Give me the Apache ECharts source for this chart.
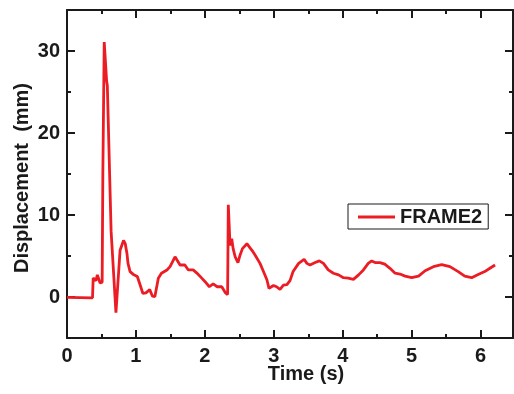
<!DOCTYPE html>
<html>
<head>
<meta charset="utf-8">
<script src="https://cdn.jsdelivr.net/npm/echarts@6/dist/echarts.min.js"></script>
<style>
  html, body { margin: 0; padding: 0; background: #fff; }
  #chart { width: 514px; height: 394px; }
</style>
</head>
<body>
<div id="chart"></div>
<script>
// time (s) and displacement (mm)
const timeS = [
  0, 0.37, 0.38, 0.395, 0.42, 0.44, 0.48, 0.51, 0.52, 0.54, 0.575, 0.585, 0.64, 0.71,
  0.77, 0.82, 0.845, 0.87, 0.885, 0.915, 0.97, 1.02, 1.06, 1.1, 1.145, 1.2, 1.24, 1.275,
  1.325, 1.37, 1.45, 1.495, 1.567, 1.64, 1.71, 1.76, 1.83, 1.88, 1.955, 2.0, 2.065, 2.12,
  2.18, 2.245, 2.3, 2.33, 2.34, 2.365, 2.39, 2.41, 2.44, 2.48, 2.51, 2.545, 2.61, 2.655,
  2.7, 2.73, 2.75, 2.8, 2.85, 2.9, 2.93, 2.995, 3.04, 3.09, 3.14, 3.19, 3.235, 3.28,
  3.36, 3.44, 3.48, 3.525, 3.6, 3.66, 3.72, 3.79, 3.865, 3.94, 4.01, 4.08, 4.155, 4.23,
  4.3, 4.37, 4.42, 4.47, 4.54, 4.61, 4.685, 4.76, 4.83, 4.905, 5.0, 5.1, 5.195, 5.315,
  5.435, 5.555, 5.675, 5.77, 5.87, 5.965, 6.06, 6.135, 6.21
];
const frame2 = [
  -0.05, -0.1, 2.3, 2.2, 2.0, 2.7, 1.7, 1.8, 15, 31.1, 26.3, 25.8, 8, -1.9,
  5.7, 6.9, 6.5, 5.3, 4.1, 3.1, 2.7, 2.5, 1.5, 0.45, 0.5, 0.9, 0.1, 0.05,
  2.3, 2.9, 3.3, 3.7, 4.9, 3.9, 3.9, 3.3, 3.3, 2.95, 2.3, 1.9, 1.25, 1.6,
  1.25, 1.25, 0.5, 0.3, 11.25, 6.3, 7.1, 5.9, 4.9, 4.2, 5.1, 5.9, 6.5, 6.0,
  5.5, 5.1, 5.3, 4.1, 3.1, 2.1, 1.05, 1.4, 1.25, 0.93, 1.45, 1.5, 2.0, 3.1,
  4.1, 4.6, 4.1, 3.9, 4.2, 4.4, 4.1, 3.3, 2.9, 2.7, 2.35, 2.3, 2.15, 2.7,
  3.3, 4.1, 4.4, 4.2, 4.2, 4.0, 3.5, 2.9, 2.8, 2.55, 2.35, 2.55, 3.2, 3.7,
  3.95, 3.7, 3.1, 2.55, 2.35, 2.75, 3.1, 3.5, 3.9
];
const xMajor = [0, 1, 2, 3, 4, 5, 6];
const xMinor = [0.5, 1.5, 2.5, 3.5, 4.5, 5.5];
const yMajor = [0, 10, 20, 30];
const yMinor = [-5, 5, 15, 25];

const font = 'Liberation Sans, Arial, sans-serif';
const black = '#1a1a1a';

function xAx(pos, ticks, len, withLabel, showLine) {
  return {
    type: 'value', position: pos, min: 0, max: 6.47,
    axisLine: { show: showLine, onZero: false, lineStyle: { color: black, width: 2 } },
    axisTick: { show: true, inside: true, length: len, customValues: ticks, lineStyle: { color: black, width: 2 } },
    axisLabel: withLabel
      ? { show: true, customValues: ticks, margin: 8, color: black, fontFamily: font, fontWeight: 'bold', fontSize: 20 }
      : { show: false },
    splitLine: { show: false }
  };
}
function yAx(pos, ticks, len, withLabel, showLine) {
  return {
    type: 'value', position: pos, min: -5, max: 35,
    axisLine: { show: showLine, onZero: false, lineStyle: { color: black, width: 2 } },
    axisTick: { show: true, inside: true, length: len, customValues: ticks, lineStyle: { color: black, width: 2 } },
    axisLabel: withLabel
      ? { show: true, customValues: ticks, margin: 7, color: black, fontFamily: font, fontWeight: 'bold', fontSize: 20 }
      : { show: false },
    splitLine: { show: false }
  };
}

const chart = echarts.init(document.getElementById('chart'));

const xMain = xAx('bottom', xMajor, 8, true, true);
xMain.name = 'Time (s)';
xMain.nameLocation = 'middle';
xMain.nameGap = 26;
xMain.nameMoveOverlap = false;
xMain.nameTextStyle = { color: black, fontFamily: font, fontWeight: 'bold', fontSize: 20, padding: [0, 0, 0, 32] };

const yMain = yAx('left', yMajor, 8, true, true);
yMain.name = 'Displacement  (mm)';
yMain.nameLocation = 'middle';
yMain.nameGap = 35;
yMain.nameMoveOverlap = false;
yMain.nameTextStyle = { color: black, fontFamily: font, fontWeight: 'bold', fontSize: 20, padding: [0, 8, 0, 0] };

chart.setOption({
  animation: false,
  grid: { left: 67, top: 10, width: 446, height: 328, containLabel: false, outerBoundsMode: 'none' },
  legend: {
    left: 348, top: 204,
    padding: [3, 6, 2, 10],
    borderColor: black, borderWidth: 1,
    icon: 'rect', itemWidth: 37, itemHeight: 3, itemGap: 5,
    textStyle: { color: black, fontFamily: font, fontWeight: 'bold', fontSize: 20 },
    data: ['FRAME2']
  },
  xAxis: [
    xMain,
    xAx('bottom', xMinor, 4, false, false),
    xAx('top', xMajor, 8, false, true),
    xAx('top', xMinor, 4, false, false)
  ],
  yAxis: [
    yMain,
    yAx('left', yMinor, 4, false, false),
    yAx('right', yMajor, 8, false, true),
    yAx('right', yMinor, 4, false, false)
  ],
  series: [
    {
      name: 'FRAME2',
      type: 'line',
      xAxisIndex: 0,
      yAxisIndex: 0,
      data: timeS.map((t, i) => [t, frame2[i]]),
      showSymbol: false,
      lineStyle: { color: '#ec1c24', width: 2.8 },
      itemStyle: { color: '#ec1c24' }
    }
  ]
});
</script>
</body>
</html>
